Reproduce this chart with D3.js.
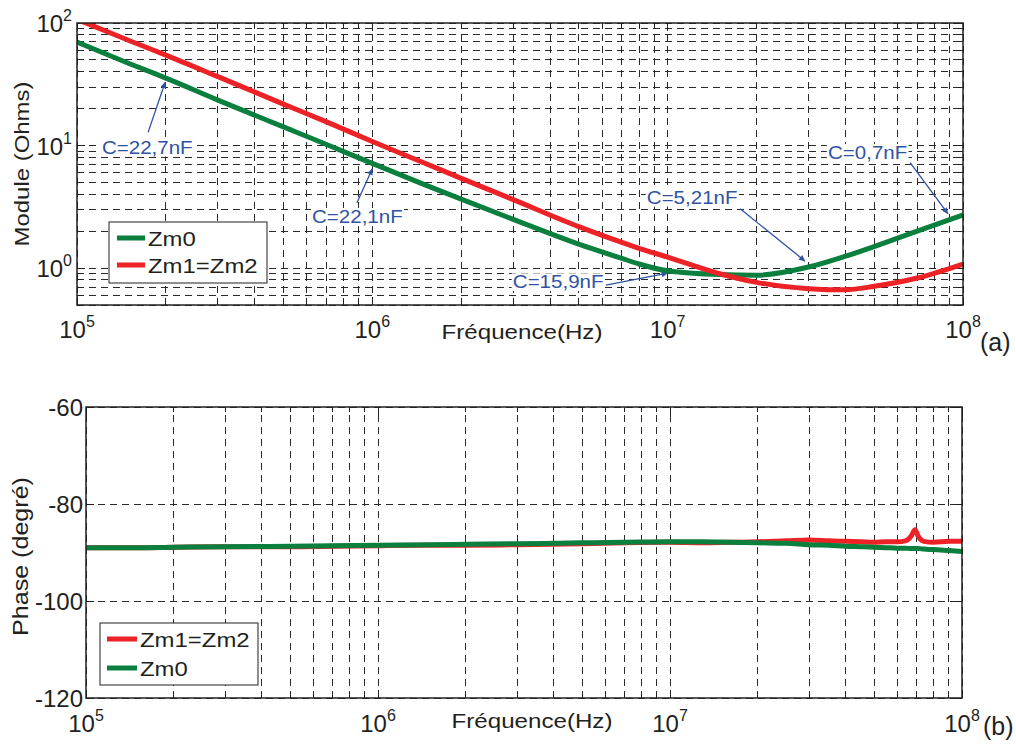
<!DOCTYPE html>
<html>
<head>
<meta charset="utf-8">
<script src="https://cdn.jsdelivr.net/npm/d3@7"></script>
<style>
  body { margin: 0; background: #fff; }
  text { font-family: "Liberation Sans", Arial, Helvetica, sans-serif; fill: #231f20; }
</style>
</head>
<body>
<div id="chart"></div>
<script>
// ---- data ----
var magFreq = [1e5, 1.5e5, 2e5, 3e5, 5e5, 7e5, 1e6, 1.5e6, 2e6, 3e6, 5e6, 7e6, 8e6, 1e7, 1.5e7, 2e7, 3e7, 4e7, 5e7, 7e7, 1e8];
var zm0Mag = [69.8, 46.7, 35.5, 23.5, 14.2, 10.2, 7.15, 4.8, 3.65, 2.5, 1.57, 1.2, 1.08, 0.95, 0.885, 0.875, 1.02, 1.25, 1.5, 2.0, 2.72];
var zm1Mag = [107, 72, 54.7, 36.5, 21.8, 15.6, 10.8, 7.2, 5.4, 3.62, 2.18, 1.62, 1.45, 1.23, 0.9, 0.765, 0.68, 0.665, 0.71, 0.83, 1.08];

var phaseFreq = [1e5, 1.5e5, 2e5, 3e5, 5e5, 7e5, 1e6, 1.5e6, 2e6, 3e6, 5e6, 7e6, 1e7, 1.3e7, 1.6e7, 2e7, 2.5e7, 3e7, 3.5e7, 4e7, 4.5e7, 5e7, 5.5e7, 6e7, 6.4e7, 6.7e7, 6.9e7, 7.1e7, 7.4e7, 8e7, 9e7, 1e8];
var zm0Phase = [-89.0, -89.0, -88.9, -88.8, -88.7, -88.6, -88.5, -88.4, -88.3, -88.2, -88.0, -87.9, -87.8, -87.8, -87.9, -88.0, -88.1, -88.4, -88.5, -88.7, -88.8, -88.9, -89.0, -89.1, -89.1, -89.2, -89.2, -89.2, -89.3, -89.4, -89.6, -89.8];
var zm1Phase = [-89.0, -89.0, -88.9, -88.8, -88.8, -88.7, -88.6, -88.5, -88.5, -88.4, -88.2, -88.0, -87.9, -88.0, -87.9, -87.8, -87.6, -87.4, -87.6, -87.7, -87.8, -87.9, -87.8, -87.8, -87.6, -86.6, -85.3, -86.8, -87.7, -87.9, -87.7, -87.7];

// annotations (frequency, ohms): label anchor, arrow tail, arrow head
var noteText = ["C=22,7nF", "C=22,1nF", "C=15,9nF", "C=5,21nF", "C=0,7nF"];
var noteAt = [[1.215e5, 8.6], [6.25e5, 2.34], [2.99e6, 0.686], [8.5e6, 3.35], [3.49e7, 7.8]];
var noteFrom = [[1.74e5, 12.8], [8.87e5, 3.41], [6.18e6, 0.726], [1.76e7, 3.05], [6.62e7, 7.26]];
var noteTo = [[1.99e5, 33], [1e6, 6.47], [1e7, 0.91], [2.92e7, 1.14], [8.9e7, 2.77]];

var freqDecades = [1e5, 1e6, 1e7, 1e8];
var freqExp = ["5", "6", "7", "8"];
var magDecades = [1, 10, 100];
var magExp = ["0", "1", "2"];
var phaseTicks = [-120, -100, -80, -60];

var green = "#0b7f3e", red = "#ec2227", blue = "#2f52a3";

var width = 1016, height = 744;
var svg = d3.select("#chart").append("svg")
  .attr("width", width)
  .attr("height", height);

var defs = svg.append("defs");
defs.append("marker")
  .attr("id", "arrow")
  .attr("viewBox", "0 0 10 10")
  .attr("refX", 10).attr("refY", 5)
  .attr("markerWidth", 11).attr("markerHeight", 6)
  .attr("markerUnits", "userSpaceOnUse")
  .attr("orient", "auto")
  .append("path")
  .attr("d", "M0,0L10,5L0,10z")
  .attr("fill", blue);

// minor values for log grids
function logMinors(lo, hi) {
  var out = [];
  for (var d = lo; d < hi; d *= 10) {
    for (var k = 1; k < 10; k++) out.push(d * k);
  }
  out.push(hi);
  return out;
}

// text stretched horizontally like the original
function stext(g, x, y, str, size, sx, rot, anchor) {
  return g.append("text")
    .attr("transform", "translate(" + x + "," + y + ")" + (rot ? " rotate(" + rot + ")" : "") + " scale(" + sx + ",1)")
    .attr("text-anchor", anchor || "start")
    .style("font-size", size + "px")
    .text(str);
}

function powLabel(g, x, y, exp, anchor) {
  var t = g.append("text")
    .attr("x", x).attr("y", y)
    .attr("text-anchor", anchor)
    .style("font-size", "24px");
  t.append("tspan").text("10");
  t.append("tspan").attr("dy", -11).style("font-size", "16px").text(exp);
}

function gridAndTicks(g, x, y, xVals, yVals, majorX, majorY) {
  var x0 = x.range()[0], x1 = x.range()[1];
  var y0 = y.range()[0], y1 = y.range()[1];
  var grid = g.append("g")
    .attr("stroke", "#2a2a2a")
    .attr("stroke-width", 1)
    .attr("shape-rendering", "crispEdges")
    .attr("stroke-dasharray", "7,5");
  grid.selectAll(".vg").data(xVals).enter().append("line")
    .attr("x1", d => x(d)).attr("x2", d => x(d))
    .attr("y1", y0).attr("y2", y1);
  grid.selectAll(".hg").data(yVals).enter().append("line")
    .attr("y1", d => y(d)).attr("y2", d => y(d))
    .attr("x1", x0).attr("x2", x1);

  var ticks = g.append("g").attr("stroke", "#231f20").attr("stroke-width", 1)
    .attr("shape-rendering", "crispEdges");
  xVals.forEach(function (d) {
    var len = majorX.indexOf(d) >= 0 ? 8 : 5;
    ticks.append("line").attr("x1", x(d)).attr("x2", x(d)).attr("y1", y0).attr("y2", y0 - len);
    ticks.append("line").attr("x1", x(d)).attr("x2", x(d)).attr("y1", y1).attr("y2", y1 + len);
  });
  yVals.forEach(function (d) {
    var len = majorY.indexOf(d) >= 0 ? 8 : 5;
    ticks.append("line").attr("y1", y(d)).attr("y2", y(d)).attr("x1", x0).attr("x2", x0 + len);
    ticks.append("line").attr("y1", y(d)).attr("y2", y(d)).attr("x1", x1).attr("x2", x1 - len);
  });
}

// ================= (a) module =================
var A = { left: 77, right: 963, top: 23, bottom: 305 };
var xA = d3.scaleLog().domain([1e5, 1e8]).range([A.left, A.right]);
var yA = d3.scaleLog().domain([0.5, 100]).range([A.bottom, A.top]);
var gA = svg.append("g");

gridAndTicks(gA, xA, yA, logMinors(1e5, 1e8),
  [0.5, 0.6, 0.7, 0.8, 0.9].concat(logMinors(1, 100)), freqDecades, magDecades);

defs.append("clipPath").attr("id", "clipA").append("rect")
  .attr("x", A.left).attr("y", A.top)
  .attr("width", A.right - A.left).attr("height", A.bottom - A.top);

var magLine = function (vals) {
  return d3.line()
    .x((d, i) => xA(magFreq[i]))
    .y(d => yA(d))
    .curve(d3.curveMonotoneX)(vals);
};

// annotations (under the curves, with a white backing like the original)
var notes = gA.append("g");
noteText.forEach(function (t, i) {
  var ng = notes.append("g")
    .attr("transform", "translate(" + xA(noteAt[i][0]) + "," + yA(noteAt[i][1]) + ") scale(1.14,1)");
  var bg = ng.append("rect").attr("fill", "#fff");
  var txt = ng.append("text").style("font-size", "18px").style("fill", blue).text(t);
  var b = txt.node().getBBox();
  bg.attr("x", b.x - 1).attr("y", b.y + 1).attr("width", b.width + 2).attr("height", b.height - 2);
  notes.append("line")
    .attr("x1", xA(noteFrom[i][0])).attr("y1", yA(noteFrom[i][1]))
    .attr("x2", xA(noteTo[i][0])).attr("y2", yA(noteTo[i][1]))
    .attr("stroke", blue).attr("stroke-width", 1.3)
    .attr("marker-end", "url(#arrow)");
});

var curvesA = gA.append("g").attr("clip-path", "url(#clipA)");
curvesA.append("path").attr("d", magLine(zm0Mag))
  .attr("fill", "none").attr("stroke", green).attr("stroke-width", 5);
curvesA.append("path").attr("d", magLine(zm1Mag))
  .attr("fill", "none").attr("stroke", red).attr("stroke-width", 5);

gA.append("rect")
  .attr("x", A.left).attr("y", A.top)
  .attr("width", A.right - A.left).attr("height", A.bottom - A.top)
  .attr("fill", "none").attr("stroke", "#231f20").attr("stroke-width", 1.5);

// tick labels
freqDecades.forEach(function (d, i) {
  powLabel(gA, xA(d), A.bottom + 33, freqExp[i], "middle");
});
magDecades.forEach(function (d, i) {
  powLabel(gA, A.left - 5, yA(d) + 9, magExp[i], "end");
});

stext(gA, (A.left + A.right) / 2 + 2, A.bottom + 34, "Fréquence(Hz)", 21, 1.15, 0, "middle");
stext(gA, 29, (A.top + A.bottom) / 2, "Module (Ohms)", 21, 1.14, -90, "middle");
gA.append("text").attr("x", 980).attr("y", 351).style("font-size", "25px").text("(a)");

// legend
var legA = gA.append("g");
legA.append("rect").attr("x", 109).attr("y", 222).attr("width", 158).attr("height", 61)
  .attr("fill", "#fff").attr("stroke", "#231f20").attr("stroke-width", 1);
[["Zm0", green], ["Zm1=Zm2", red]].forEach(function (e, i) {
  var yy = 238 + i * 27;
  legA.append("line").attr("x1", 117).attr("x2", 145).attr("y1", yy).attr("y2", yy)
    .attr("stroke", e[1]).attr("stroke-width", 5);
  stext(legA, 148, yy + 7.5, e[0], 21, 1.14);
});

// ================= (b) phase =================
var B = { left: 86, right: 962, top: 407, bottom: 698 };
var xB = d3.scaleLog().domain([1e5, 1e8]).range([B.left, B.right]);
var yB = d3.scaleLinear().domain([-120, -60]).range([B.bottom, B.top]);
var gB = svg.append("g");

gridAndTicks(gB, xB, yB, logMinors(1e5, 1e8), phaseTicks, freqDecades, phaseTicks);

var phaseLine = function (vals) {
  return d3.line()
    .x((d, i) => xB(phaseFreq[i]))
    .y(d => yB(d))
    .curve(d3.curveMonotoneX)(vals);
};
gB.append("path").attr("d", phaseLine(zm1Phase))
  .attr("fill", "none").attr("stroke", red).attr("stroke-width", 5);
gB.append("path").attr("d", phaseLine(zm0Phase))
  .attr("fill", "none").attr("stroke", green).attr("stroke-width", 5);

gB.append("rect")
  .attr("x", B.left).attr("y", B.top)
  .attr("width", B.right - B.left).attr("height", B.bottom - B.top)
  .attr("fill", "none").attr("stroke", "#231f20").attr("stroke-width", 1.5);

freqDecades.forEach(function (d, i) {
  powLabel(gB, xB(d), B.bottom + 34, freqExp[i], "middle");
});
phaseTicks.forEach(function (d) {
  gB.append("text")
    .attr("x", B.left - 3).attr("y", yB(d) + 9)
    .attr("text-anchor", "end")
    .style("font-size", "24px")
    .text(d);
});

stext(gB, (B.left + B.right) / 2 + 8, B.bottom + 30, "Fréquence(Hz)", 21, 1.15, 0, "middle");
stext(gB, 28, (B.top + B.bottom) / 2 + 4, "Phase (degré)", 22, 1.14, -90, "middle");
gB.append("text").attr("x", 983).attr("y", 735).style("font-size", "25px").text("(b)");

var legB = gB.append("g");
legB.append("rect").attr("x", 100).attr("y", 623).attr("width", 158).attr("height", 62)
  .attr("fill", "#fff").attr("stroke", "#231f20").attr("stroke-width", 1);
[["Zm1=Zm2", red], ["Zm0", green]].forEach(function (e, i) {
  var yy = 639 + i * 29;
  legB.append("line").attr("x1", 107).attr("x2", 137).attr("y1", yy).attr("y2", yy)
    .attr("stroke", e[1]).attr("stroke-width", 5);
  stext(legB, 140, yy + 7.5, e[0], 21, 1.14);
});
</script>
</body>
</html>
